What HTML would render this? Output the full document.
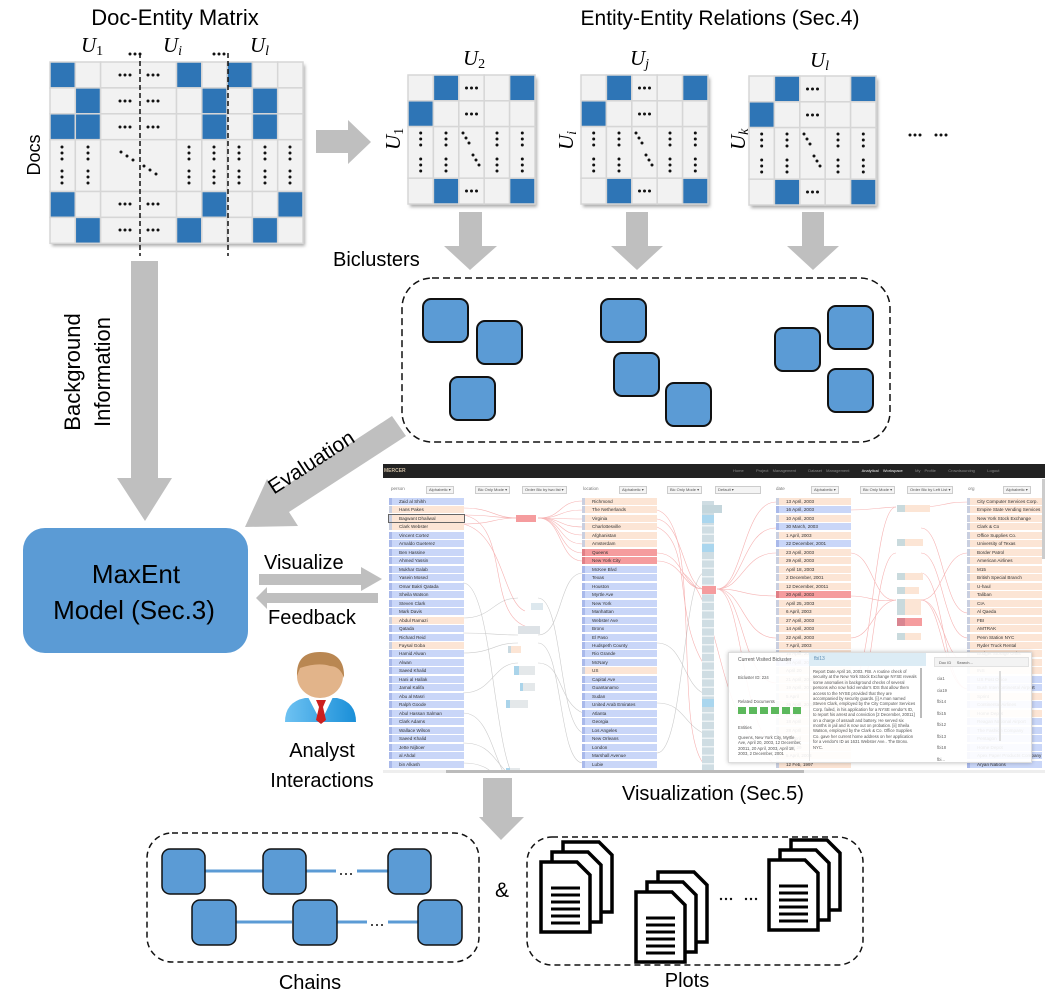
<!DOCTYPE html>
<html><head><meta charset="utf-8">
<style>
html,body{margin:0;padding:0;background:#fff;}
body{width:1048px;height:993px;position:relative;overflow:hidden;font-family:"Liberation Sans",sans-serif;}
svg{position:absolute;left:0;top:0;}
.shot{position:absolute;left:383px;top:463px;width:662px;height:310px;background:#fff;overflow:hidden;}
.col{position:absolute;top:35px;width:75px;}
.col i{display:block;height:7px;margin-bottom:1.47px;background:#c9d6f8;font:normal 4.6px/7px "Liberation Sans",sans-serif;color:#333;padding-left:7px;border-left:3px solid #a9b9ea;box-sizing:border-box;white-space:nowrap;overflow:hidden;}
.col i.p{background:#fce5d5;border-left-color:#c9cfe0;}
.col i.r{background:#f59c9e;border-left-color:#e07f86;}
.col i.o{outline:1px solid #666;}
.hdr{position:absolute;top:23px;font:4.5px/6px "Liberation Sans",sans-serif;color:#777;}
.dd{position:absolute;top:23px;height:6px;border:1px solid #ccc;background:#f4f4f4;font:4px/6px "Liberation Sans",sans-serif;color:#555;padding:0 2px;}
.pop{position:absolute;left:345px;top:189px;width:302px;height:109px;background:rgba(255,255,255,0.9);border:1px solid #ddd;box-shadow:0 0 4px rgba(0,0,0,.25);font:4.2px/5.4px "Liberation Sans",sans-serif;color:#555;}
</style></head><body>
<svg width="1048" height="993" viewBox="0 0 1048 993">
<defs>
<filter id="sh" x="-10%" y="-10%" width="125%" height="125%"><feDropShadow dx="2" dy="3" stdDeviation="1.5" flood-color="#888" flood-opacity="0.7"/></filter>
<g id="hd"><circle cx="-5" cy="0" r="1.5"/><circle cx="0" cy="0" r="1.5"/><circle cx="5" cy="0" r="1.5"/></g>
<g id="vd"><circle cx="0" cy="-6" r="1.5"/><circle cx="0" cy="0" r="1.5"/><circle cx="0" cy="6" r="1.5"/></g>
<g id="sm">
 <rect x="0" y="0" width="127" height="129" fill="#f2f2f2" filter="url(#sh)"/>
 <g fill="#f2f2f2" stroke="#d6d6d6" stroke-width="1.5">
  <rect x="0" y="0" width="25.4" height="25.8"/><rect x="25.4" y="0" width="25.4" height="25.8" fill="#2e75b6"/><rect x="50.8" y="0" width="25.4" height="25.8"/><rect x="76.2" y="0" width="25.4" height="25.8"/><rect x="101.6" y="0" width="25.4" height="25.8" fill="#2e75b6"/>
  <rect x="0" y="25.8" width="25.4" height="25.8" fill="#2e75b6"/><rect x="25.4" y="25.8" width="25.4" height="25.8"/><rect x="50.8" y="25.8" width="25.4" height="25.8"/><rect x="76.2" y="25.8" width="25.4" height="25.8"/><rect x="101.6" y="25.8" width="25.4" height="25.8"/>
  <rect x="0" y="51.6" width="25.4" height="51.6"/><rect x="25.4" y="51.6" width="25.4" height="51.6"/><rect x="50.8" y="51.6" width="25.4" height="51.6"/><rect x="76.2" y="51.6" width="25.4" height="51.6"/><rect x="101.6" y="51.6" width="25.4" height="51.6"/>
  <rect x="0" y="103.2" width="25.4" height="25.8"/><rect x="25.4" y="103.2" width="25.4" height="25.8" fill="#2e75b6"/><rect x="50.8" y="103.2" width="25.4" height="25.8"/><rect x="76.2" y="103.2" width="25.4" height="25.8"/><rect x="101.6" y="103.2" width="25.4" height="25.8" fill="#2e75b6"/>
 </g>
 <g fill="#111">
  <use href="#hd" x="63.5" y="13"/><use href="#hd" x="63.5" y="39"/><use href="#hd" x="63.5" y="116"/>
  <use href="#vd" x="12.7" y="64"/><use href="#vd" x="38" y="64"/><use href="#vd" x="89" y="64"/><use href="#vd" x="114.3" y="64"/>
  <use href="#vd" x="12.7" y="90"/><use href="#vd" x="38" y="90"/><use href="#vd" x="89" y="90"/><use href="#vd" x="114.3" y="90"/>
  <circle cx="55" cy="58" r="1.5"/><circle cx="58" cy="63" r="1.5"/><circle cx="61" cy="68" r="1.5"/>
  <circle cx="65" cy="80" r="1.5"/><circle cx="68" cy="85" r="1.5"/><circle cx="71" cy="90" r="1.5"/>
 </g>
</g>
<g id="doc"><path d="M0,0 H36 L49,13 V70 H0 Z" fill="#fff" stroke="#000" stroke-width="3.5" stroke-linejoin="miter"/></g>
<g id="docf"><path d="M0,0 H36 L49,13 V70 H0 Z" fill="#fff" stroke="#000" stroke-width="3.5"/><g stroke="#000" stroke-width="3"><line x1="10" y1="26" x2="39" y2="26"/><line x1="10" y1="33" x2="39" y2="33"/><line x1="10" y1="40" x2="39" y2="40"/><line x1="10" y1="47" x2="39" y2="47"/><line x1="10" y1="54" x2="39" y2="54"/><line x1="10" y1="61" x2="39" y2="61"/></g></g>
<g id="stack"><use href="#doc" x="22" y="-20"/><use href="#doc" x="11" y="-10"/><use href="#docf" x="0" y="0"/></g>
<linearGradient id="bod" x1="0" y1="0" x2="1" y2="0"><stop offset="0" stop-color="#6ec2f2"/><stop offset="1" stop-color="#1a8fd8"/></linearGradient>
</defs>

<text x="175" y="25" font-size="22" text-anchor="middle" fill="#000">Doc-Entity Matrix</text>
<text x="720" y="25" font-size="21" text-anchor="middle" fill="#000">Entity-Entity Relations (Sec.4)</text>
<g font-family="Liberation Serif" font-style="italic" font-size="21" fill="#000">
<text x="81" y="52">U<tspan font-size="14" font-style="normal" dy="3">1</tspan></text>
<text x="163" y="52">U<tspan font-size="14" dy="3">i</tspan></text>
<text x="250" y="52">U<tspan font-size="14" dy="3">l</tspan></text>
<text x="463" y="65">U<tspan font-size="14" font-style="normal" dy="3">2</tspan></text>
<text x="630" y="65">U<tspan font-size="14" dy="3">j</tspan></text>
<text x="810" y="67">U<tspan font-size="14" dy="3">l</tspan></text>
<text transform="translate(400,150) rotate(-90)">U<tspan font-size="14" font-style="normal" dy="3">1</tspan></text>
<text transform="translate(573,150) rotate(-90)">U<tspan font-size="14" dy="3">i</tspan></text>
<text transform="translate(745,150) rotate(-90)">U<tspan font-size="14" dy="3">k</tspan></text>
</g>
<g fill="#111"><use href="#hd" x="135" y="54"/><use href="#hd" x="219" y="54"/><use href="#hd" x="915" y="135"/><use href="#hd" x="941" y="135"/></g>
<text transform="translate(40,155) rotate(-90)" font-size="18" text-anchor="middle">Docs</text>

<g>
<rect x="50" y="62" width="253" height="181" fill="#f2f2f2" filter="url(#sh)"/>
<g stroke="#d6d6d6" stroke-width="1.5" fill="#f2f2f2">
<rect x="50" y="62" width="25.3" height="25.9" fill="#2e75b6"/><rect x="75.3" y="62" width="25.3" height="25.9"/><rect x="100.6" y="62" width="75.9" height="25.9"/><rect x="176.5" y="62" width="25.3" height="25.9" fill="#2e75b6"/><rect x="201.8" y="62" width="25.3" height="25.9"/><rect x="227.1" y="62" width="25.3" height="25.9" fill="#2e75b6"/><rect x="252.4" y="62" width="25.3" height="25.9"/><rect x="277.7" y="62" width="25.3" height="25.9"/>
<rect x="50" y="87.9" width="25.3" height="25.9"/><rect x="75.3" y="87.9" width="25.3" height="25.9" fill="#2e75b6"/><rect x="100.6" y="87.9" width="75.9" height="25.9"/><rect x="176.5" y="87.9" width="25.3" height="25.9"/><rect x="201.8" y="87.9" width="25.3" height="25.9" fill="#2e75b6"/><rect x="227.1" y="87.9" width="25.3" height="25.9"/><rect x="252.4" y="87.9" width="25.3" height="25.9" fill="#2e75b6"/><rect x="277.7" y="87.9" width="25.3" height="25.9"/>
<rect x="50" y="113.8" width="25.3" height="25.9" fill="#2e75b6"/><rect x="75.3" y="113.8" width="25.3" height="25.9" fill="#2e75b6"/><rect x="100.6" y="113.8" width="75.9" height="25.9"/><rect x="176.5" y="113.8" width="25.3" height="25.9"/><rect x="201.8" y="113.8" width="25.3" height="25.9" fill="#2e75b6"/><rect x="227.1" y="113.8" width="25.3" height="25.9"/><rect x="252.4" y="113.8" width="25.3" height="25.9" fill="#2e75b6"/><rect x="277.7" y="113.8" width="25.3" height="25.9"/>
<rect x="50" y="139.7" width="25.3" height="51.8"/><rect x="75.3" y="139.7" width="25.3" height="51.8"/><rect x="100.6" y="139.7" width="75.9" height="51.8"/><rect x="176.5" y="139.7" width="25.3" height="51.8"/><rect x="201.8" y="139.7" width="25.3" height="51.8"/><rect x="227.1" y="139.7" width="25.3" height="51.8"/><rect x="252.4" y="139.7" width="25.3" height="51.8"/><rect x="277.7" y="139.7" width="25.3" height="51.8"/>
<rect x="50" y="191.5" width="25.3" height="25.9" fill="#2e75b6"/><rect x="75.3" y="191.5" width="25.3" height="25.9"/><rect x="100.6" y="191.5" width="75.9" height="25.9"/><rect x="176.5" y="191.5" width="25.3" height="25.9"/><rect x="201.8" y="191.5" width="25.3" height="25.9" fill="#2e75b6"/><rect x="227.1" y="191.5" width="25.3" height="25.9"/><rect x="252.4" y="191.5" width="25.3" height="25.9"/><rect x="277.7" y="191.5" width="25.3" height="25.9" fill="#2e75b6"/>
<rect x="50" y="217.4" width="25.3" height="25.9"/><rect x="75.3" y="217.4" width="25.3" height="25.9" fill="#2e75b6"/><rect x="100.6" y="217.4" width="75.9" height="25.9"/><rect x="176.5" y="217.4" width="25.3" height="25.9" fill="#2e75b6"/><rect x="201.8" y="217.4" width="25.3" height="25.9"/><rect x="227.1" y="217.4" width="25.3" height="25.9"/><rect x="252.4" y="217.4" width="25.3" height="25.9" fill="#2e75b6"/><rect x="277.7" y="217.4" width="25.3" height="25.9"/>
</g>
<g fill="#111">
<use href="#hd" x="125" y="75"/><use href="#hd" x="153" y="75"/>
<use href="#hd" x="125" y="101"/><use href="#hd" x="153" y="101"/>
<use href="#hd" x="125" y="127"/><use href="#hd" x="153" y="127"/>
<use href="#hd" x="125" y="204"/><use href="#hd" x="153" y="204"/>
<use href="#hd" x="125" y="230"/><use href="#hd" x="153" y="230"/>
<use href="#vd" x="62" y="153"/><use href="#vd" x="88" y="153"/><use href="#vd" x="189" y="153"/><use href="#vd" x="214" y="153"/><use href="#vd" x="239" y="153"/><use href="#vd" x="265" y="153"/><use href="#vd" x="290" y="153"/>
<use href="#vd" x="62" y="177"/><use href="#vd" x="88" y="177"/><use href="#vd" x="189" y="177"/><use href="#vd" x="214" y="177"/><use href="#vd" x="239" y="177"/><use href="#vd" x="265" y="177"/><use href="#vd" x="290" y="177"/>
<circle cx="121" cy="152" r="1.5"/><circle cx="127" cy="156" r="1.5"/><circle cx="133" cy="160" r="1.5"/>
<circle cx="144" cy="166" r="1.5"/><circle cx="150" cy="170" r="1.5"/><circle cx="156" cy="174" r="1.5"/>
</g>
<g stroke="#111" stroke-width="1.5" stroke-dasharray="5,3"><line x1="140" y1="53" x2="140" y2="256"/><line x1="228" y1="53" x2="228" y2="256"/></g>
</g>

<use href="#sm" x="408" y="75"/><use href="#sm" x="581" y="75"/><use href="#sm" x="749" y="76"/>

<g fill="#bfbfbf">
<polygon points="316,130 348,130 348,120 371,142 348,164 348,153 316,153"/>
<polygon points="459,212 482,212 482,246 497,246 470,270 444,246 459,246"/>
<polygon points="626,212 648,212 648,246 663,246 637,270 611,246 626,246"/>
<polygon points="802,212 824,212 824,246 839,246 813,270 787,246 802,246"/>
<polygon points="131,261 158,261 158,478 172,478 145,521 117,478 131,478"/>
<polygon points="392,416 276,492 267,479 245,527 298,526 289,512 406,436"/>
<polygon points="259,574 361,574 361,567 382,579 361,591 361,585 259,585"/>
<polygon points="378,593 267,593 267,587 256,598 267,609 267,603 378,603"/>
<polygon points="483,778 512,778 512,817 524,817 501,840 479,817 483,817"/>
</g>

<text x="333" y="266" font-size="20">Biclusters</text>
<rect x="402" y="278" width="488" height="164" rx="30" fill="none" stroke="#111" stroke-width="1.5" stroke-dasharray="7,4"/>
<g fill="#5b9bd5" stroke="#111" stroke-width="2">
<rect x="423" y="299" width="45" height="43" rx="8"/><rect x="477" y="321" width="45" height="43" rx="8"/><rect x="450" y="377" width="45" height="43" rx="8"/>
<rect x="601" y="299" width="45" height="43" rx="8"/><rect x="614" y="353" width="45" height="43" rx="8"/><rect x="666" y="383" width="45" height="43" rx="8"/>
<rect x="775" y="328" width="45" height="43" rx="8"/><rect x="828" y="306" width="45" height="43" rx="8"/><rect x="828" y="369" width="45" height="43" rx="8"/>
</g>

<g font-size="22" text-anchor="middle">
<text transform="translate(80,372) rotate(-90)">Background</text>
<text transform="translate(110,372) rotate(-90)">Information</text>
<text transform="translate(315,468) rotate(-33)" font-size="21">Evaluation</text>
</g>

<rect x="23" y="528" width="225" height="125" rx="22" fill="#5b9bd5"/>
<text x="136" y="583" font-size="26" text-anchor="middle">MaxEnt</text>
<text x="134" y="619" font-size="26" text-anchor="middle">Model (Sec.3)</text>
<text x="264" y="569" font-size="20">Visualize</text>
<text x="268" y="624" font-size="20">Feedback</text>

<path d="M285,722 Q285,702 305,698 L337,698 Q356,702 356,722 Z" fill="url(#bod)"/>
<path d="M308,697 L321,722 L333,697 Z" fill="#fff"/>
<path d="M316,700 L326,700 L323,707 L326,720 L321,724 L316,720 L319,707 Z" fill="#cc1f1f"/>
<ellipse cx="320" cy="676" rx="23" ry="22" fill="#e2b48a"/>
<path d="M297,676 Q296,652 320,652 Q345,652 344,678 Q340,666 330,666 Q318,662 300,668 Z" fill="#b98752"/>
<text x="322" y="757" font-size="20" text-anchor="middle">Analyst</text>
<text x="322" y="787" font-size="20" text-anchor="middle">Interactions</text>
<text x="622" y="800" font-size="20">Visualization (Sec.5)</text>

<rect x="147" y="833" width="332" height="129" rx="25" fill="none" stroke="#111" stroke-width="1.5" stroke-dasharray="6,4"/>
<g stroke="#5b9bd5" stroke-width="3"><line x1="205" y1="871" x2="263" y2="871"/><line x1="306" y1="871" x2="336" y2="871"/><line x1="357" y1="871" x2="388" y2="871"/><line x1="236" y1="922" x2="292" y2="922"/><line x1="337" y1="922" x2="367" y2="922"/><line x1="388" y1="922" x2="418" y2="922"/></g>
<g fill="#5b9bd5" stroke="#111" stroke-width="1.5">
<rect x="162" y="849" width="43" height="45" rx="8"/><rect x="263" y="849" width="43" height="45" rx="8"/><rect x="388" y="849" width="43" height="45" rx="8"/>
<rect x="192" y="900" width="44" height="45" rx="8"/><rect x="293" y="900" width="44" height="45" rx="8"/><rect x="418" y="900" width="44" height="45" rx="8"/>
</g>
<g fill="#111"><circle cx="341" cy="874" r="1"/><circle cx="346" cy="874" r="1"/><circle cx="351" cy="874" r="1"/><circle cx="372" cy="925" r="1"/><circle cx="377" cy="925" r="1"/><circle cx="382" cy="925" r="1"/></g>
<text x="502" y="897" font-size="21" text-anchor="middle">&amp;</text>
<rect x="527" y="837" width="336" height="128" rx="25" fill="none" stroke="#111" stroke-width="1.5" stroke-dasharray="6,4"/>
<use href="#stack" x="541" y="862"/><use href="#stack" x="636" y="892"/><use href="#stack" x="769" y="860"/>
<g fill="#111"><circle cx="721" cy="899" r="1.2"/><circle cx="726" cy="899" r="1.2"/><circle cx="731" cy="899" r="1.2"/><circle cx="746" cy="899" r="1.2"/><circle cx="751" cy="899" r="1.2"/><circle cx="756" cy="899" r="1.2"/></g>
<text x="310" y="989" font-size="20" text-anchor="middle">Chains</text>
<text x="687" y="987" font-size="20" text-anchor="middle">Plots</text>
</svg>

<div class="shot">
<div style="position:absolute;left:0;top:1px;width:662px;height:14px;background:#222;"></div>
<div style="position:absolute;left:1px;top:5px;font:bold 5px/6px 'Liberation Sans';color:#c9b9a0;">MERCER</div>
<div style="position:absolute;left:350px;top:5px;font:4px/6px 'Liberation Sans';color:#888;white-space:nowrap;word-spacing:3px;">Home &nbsp; Project Management &nbsp; Dataset Management &nbsp; <span style="color:#eee">Analytical Workspace</span> &nbsp; My Profile &nbsp; Crowdsourcing &nbsp; Logout</div>
<div class="hdr" style="left:8px">person</div><div class="dd" style="left:43px">Alphabetic ▾</div><div class="dd" style="left:92px">Bic Only Mode ▾</div><div class="dd" style="left:139px">Order Bic by two list ▾</div>
<div class="hdr" style="left:200px">location</div><div class="dd" style="left:236px">Alphabetic ▾</div><div class="dd" style="left:284px">Bic Only Mode ▾</div><div class="dd" style="left:332px;width:40px">Default ▾</div>
<div class="hdr" style="left:393px">date</div><div class="dd" style="left:428px">Alphabetic ▾</div><div class="dd" style="left:477px">Bic Only Mode ▾</div><div class="dd" style="left:524px">Order Bic by Left List ▾</div>
<div class="hdr" style="left:585px">org</div><div class="dd" style="left:620px">Alphabetic ▾</div>

<svg width="662" height="310" style="left:0;top:0" fill="none" stroke-width="0.6">
<g stroke="#f08080" opacity="0.6">
<path d="M80,45 C110,45 110,55 135,55"/><path d="M80,52 C110,52 110,55 135,55"/><path d="M80,61 C110,61 110,55 135,55"/>
<path d="M80,61 C120,70 120,140 142,148"/><path d="M80,52 C130,60 100,160 150,165"/>
<path d="M155,55 C180,55 175,38 200,38"/><path d="M155,55 C180,55 175,47 200,47"/><path d="M155,55 C180,55 175,56 200,56"/><path d="M155,55 C180,55 175,64 200,64"/><path d="M155,55 C180,55 175,72 200,72"/><path d="M155,55 C180,55 175,81 200,81"/><path d="M155,55 C180,55 175,90 200,90"/><path d="M155,55 C180,55 175,98 200,98"/>
<path d="M274,90 C300,90 300,126 320,126"/><path d="M274,98 C300,98 300,126 320,126"/><path d="M274,56 C300,60 300,120 320,126"/><path d="M274,64 C310,80 290,150 320,200"/><path d="M274,47 C320,60 290,260 320,300"/>
<path d="M334,126 C360,126 360,39 393,39"/><path d="M334,126 C360,126 360,65 393,65"/><path d="M334,126 C360,126 360,90 393,90"/><path d="M334,126 C360,126 360,133 393,133"/><path d="M334,126 C360,126 360,175 393,175"/><path d="M334,126 C360,126 360,220 393,220"/><path d="M334,126 C360,126 360,280 393,280"/><path d="M300,110 C340,140 330,250 390,300"/>
<path d="M467,47 C490,47 490,45 513,44"/><path d="M467,90 C490,90 490,140 513,137"/><path d="M467,133 C490,133 490,140 513,137"/><path d="M467,175 C490,175 490,140 513,137"/><path d="M467,220 C490,220 490,44 513,44"/><path d="M467,260 C490,250 490,90 513,90"/>
<path d="M538,44 C560,44 560,39 585,39"/><path d="M538,137 C560,137 560,226 585,226"/><path d="M538,137 C560,137 560,200 585,200"/><path d="M538,90 C560,90 560,175 585,175"/><path d="M538,65 C560,65 560,150 585,150"/><path d="M538,137 C560,137 560,90 585,90"/><path d="M538,110 C560,110 560,226 585,226"/>
</g>
<g stroke="#999" opacity="0.5">
<path d="M80,155 C110,155 110,135 135,135"/><path d="M80,170 C110,170 110,172 135,172"/><path d="M80,190 C110,190 110,180 135,180"/><path d="M80,230 C110,230 110,200 135,200"/><path d="M80,280 C110,280 110,300 135,320"/><path d="M80,300 C110,300 110,315 135,330"/><path d="M80,250 C110,250 110,310 135,330"/><path d="M80,120 C110,120 110,300 135,320"/>
<path d="M155,135 C180,135 175,260 200,270"/><path d="M155,180 C180,180 175,300 200,300"/><path d="M155,200 C180,200 175,240 200,250"/><path d="M155,172 C180,172 175,110 200,110"/>
<path d="M274,180 C300,180 300,220 320,230"/><path d="M274,240 C300,240 300,260 320,270"/><path d="M274,290 C300,290 300,120 320,110"/>
</g>
</svg>

<div class="col" style="left:6px">
<i>Zaid al Shihh</i><i class="p">Hans Pakes</i><i class="p o">Bagwant Dhaliwal</i><i class="p">Clark Webster</i><i>Vincent Cortez</i><i>Arnaldo Gueterez</i><i>Ben Hassine</i><i>Ahmed Yassin</i><i>Mukhar Galab</i><i>Yasein Mosed</i><i>Omar Bakri Qatada</i><i>Sheila Watson</i><i>Steven Clark</i><i>Mark Davis</i><i class="p">Abdul Ramazi</i><i>Qatada</i><i>Richard Reid</i><i class="p">Faysal Goba</i><i>Hamid Alwan</i><i>Alwan</i><i>Saeed Khalid</i><i>Hani al Hallak</i><i>Jamal Kalifa</i><i>Abu al Masri</i><i>Ralph Goode</i><i>Abul Hassan Salman</i><i>Clark Adams</i><i>Wallace Wilson</i><i>Saeed Khalid</i><i>Jette Nijboer</i><i>al Ahdal</i><i>bin Alkash</i>
</div>
<div class="col" style="left:199px">
<i class="p">Richmond</i><i class="p">The Netherlands</i><i class="p">Virginia</i><i class="p">Charlottesville</i><i class="p">Afghanistan</i><i class="p">Amsterdam</i><i class="r">Queens</i><i class="r">New York City</i><i>McKee Blvd</i><i>Texas</i><i>Houston</i><i>Myrtle Ave</i><i>New York</i><i>Manhattan</i><i>Webster Ave</i><i>Bronx</i><i>El Paso</i><i>Hudspeth County</i><i>Rio Grande</i><i>McNary</i><i class="p">US</i><i>Capital Ave</i><i>Guantanamo</i><i>Sudan</i><i>United Arab Emirates</i><i>Atlanta</i><i>Georgia</i><i>Los Angeles</i><i>New Orleans</i><i>London</i><i>Marshall Avenue</i><i>Lubie</i>
</div>
<div class="col" style="left:393px">
<i class="p">13 April, 2003</i><i>16 April, 2003</i><i class="p">10 April, 2003</i><i>30 March, 2003</i><i class="p">1 April, 2003</i><i>22 December, 2001</i><i class="p">23 April, 2003</i><i class="p">29 April, 2003</i><i class="p">April 18, 2003</i><i class="p">2 December, 2001</i><i class="p">12 December, 20011</i><i class="r">20 April, 2003</i><i class="p">April 25, 2003</i><i class="p">6 April, 2003</i><i class="p">27 April, 2003</i><i class="p">14 April, 2003</i><i class="p">22 April, 2003</i><i class="p">7 April, 2003</i><i class="p">15 April, 2003</i><i>24 April, 2003</i><i class="p">April 20</i><i class="p">21 April, 2003</i><i class="p">19 April, 2003</i><i class="p">5 April</i><i class="p">26 April, 2003</i><i class="p">29 April</i><i class="p">18 April</i><i class="p">28 April</i><i class="p">11 April</i><i class="p">April 29</i><i class="p">5 April, 2003</i><i class="p">12 Feb, 1997</i>
</div>
<div class="col" style="left:584px">
<i class="p">City Computer Services Corp.</i><i class="p">Empire State Vending Services</i><i class="p">New York Stock Exchange</i><i class="p">Clark &amp; Co</i><i class="p">Office Supplies Co.</i><i class="p">University of Texas</i><i class="p">Border Patrol</i><i class="p">American Airlines</i><i class="p">M15</i><i class="p">British Special Branch</i><i class="p">U-haul</i><i class="p">Taliban</i><i class="p">CIA</i><i class="p">Al Qaeda</i><i class="p">FBI</i><i class="p">AMTRAK</i><i class="p">Penn Station NYC</i><i class="p">Ryder Truck Rental</i><i class="p">Budget Storage Units</i><i class="p">First Union Bank</i><i class="p">INS</i><i>US Post Office</i><i>Bush Intercontinental Airport</i><i class="p">Sprint</i><i>Continental Airlines</i><i class="p">Home Depot</i><i>Reagan National Airport</i><i>The Fashion Company</i><i>Pentagon</i><i>Home Depot</i><i>Apex Paper Products Company</i><i>Aryan Nations</i>
</div>

<div style="position:absolute;left:133px;top:52px;width:20px;height:7px;background:#f59c9e"></div>
<div style="position:absolute;left:148px;top:140px;width:12px;height:7px;background:#dde8ee"></div>
<div style="position:absolute;left:135px;top:163px;width:22px;height:8px;background:#dde2e6"></div>
<div style="position:absolute;left:125px;top:183px;width:10px;height:7px;background:#fce5d5;border-left:3px solid #c9d9e0"></div>
<div style="position:absolute;left:131px;top:203px;width:16px;height:9px;background:#e4e8ea;border-left:5px solid #aad4ea"></div>
<div style="position:absolute;left:137px;top:220px;width:12px;height:8px;background:#e4e8ea;border-left:3px solid #aad4ea"></div>
<div style="position:absolute;left:123px;top:237px;width:18px;height:8px;background:#e4e8ea;border-left:4px solid #aad4ea"></div>
<div style="position:absolute;left:123px;top:305px;width:10px;height:7px;background:#e4e8ea;border-left:4px solid #aad4ea"></div>
<div style="position:absolute;left:319px;top:38px;width:12px;height:272px;background:repeating-linear-gradient(#cfdde3 0 7px,#eef3f5 7px 8.5px)"></div>
<div style="position:absolute;left:319px;top:42px;width:20px;height:8px;background:#c4d6dc"></div>
<div style="position:absolute;left:319px;top:52px;width:12px;height:8px;background:#aad6ee"></div>
<div style="position:absolute;left:319px;top:81px;width:12px;height:8px;background:#aad6ee"></div>
<div style="position:absolute;left:319px;top:123px;width:14px;height:8px;background:#f59c9e"></div>
<div style="position:absolute;left:319px;top:236px;width:12px;height:8px;background:#aad6ee"></div>
<div style="position:absolute;left:514px;top:42px;width:25px;height:7px;background:#fce5d5;border-left:8px solid #c9dadd"></div>
<div style="position:absolute;left:514px;top:76px;width:18px;height:7px;background:#fce5d5;border-left:8px solid #c9dadd"></div>
<div style="position:absolute;left:514px;top:110px;width:18px;height:7px;background:#fce5d5;border-left:8px solid #c9dadd"></div>
<div style="position:absolute;left:514px;top:124px;width:14px;height:7px;background:#fce5d5;border-left:8px solid #c9dadd"></div>
<div style="position:absolute;left:514px;top:136px;width:16px;height:16px;background:#fce5d5;border-left:8px solid #c9dadd"></div>
<div style="position:absolute;left:514px;top:155px;width:17px;height:8px;background:#f59c9e;border-left:8px solid #d98590"></div>
<div style="position:absolute;left:514px;top:170px;width:16px;height:7px;background:#fce5d5;border-left:8px solid #c9dadd"></div>
<div style="position:absolute;left:514px;top:195px;width:10px;height:8px;background:#c9dadd"></div>
<div style="position:absolute;left:0;top:307px;width:662px;height:3px;background:#eee"></div>
<div style="position:absolute;left:63px;top:307px;width:358px;height:3px;background:#bbb"></div>
<div style="position:absolute;left:659px;top:16px;width:3px;height:80px;background:#ccc"></div>

<div class="pop">
 <div style="position:absolute;left:0;top:0;width:80px;height:108px;border-right:1px solid #e4e4e4"></div>
 <div style="position:absolute;left:9px;top:5px;font-size:5px;color:#555">Current Visited Bicluster</div>
 <div style="position:absolute;left:9px;top:22px">Bicluster ID: 224</div>
 <div style="position:absolute;left:9px;top:46px">Related Documents</div>
 <div style="position:absolute;left:9px;top:54px;width:64px;height:7px;background:repeating-linear-gradient(90deg,#5cb85c 0 8px,transparent 8px 11px)"></div>
 <div style="position:absolute;left:9px;top:72px">Entities</div>
 <div style="position:absolute;left:9px;top:82px;width:64px">Queens, New York City, Myrtle Ave, April 20, 2003, 12 December, 20011, 20 April, 2003, April 18, 2003, 2 December, 2001</div>
 <div style="position:absolute;left:80px;top:0;width:117px;height:13px;background:#dcecf5;color:#5f8fb5;font-size:5px;line-height:13px;padding-left:5px;box-sizing:border-box">fbi13</div>
 <div style="position:absolute;left:84px;top:16px;width:104px;color:#555;height:90px;overflow:hidden">Report Date April 16, 2003. FBI. A routine check of security at the New York Stock Exchange NYSE reveals some anomalies in background checks of several persons who now hold vendor's IDS that allow them access to the NYSE provided that they are accompanied by security guards. [i] A man named Steven Clark, employed by the City Computer Services Corp. failed, in his application for a NYSE vendor's ID, to report his arrest and conviction [2 December, 20011] on a charge of assault and battery. He served six months in jail and is now out on probation. [ii] Sheila Watson, employed by the Clark &amp; Co. Office Supplies Co. gave her current home address on her application for a vendor's ID as 1631 Webster Ave.. The Bronx. NYC.</div>
 <div style="position:absolute;left:191px;top:15px;width:2px;height:50px;background:#bbb"></div>
 <div style="position:absolute;left:205px;top:4px;width:95px;height:10px;border:1px solid #e2e2e2;background:#f3f3f3;font-size:4px;line-height:10px;padding-left:4px;box-sizing:border-box">Doc ID &nbsp;&nbsp;&nbsp; Search...</div>
 <div style="position:absolute;left:208px;top:20px;width:60px;line-height:11.5px;color:#666">cia1<br>cia19<br>fbi14<br>fbi15<br>fbi12<br>fbi13<br>fbi18<br>fbi...</div>
 <div style="position:absolute;left:270px;top:18px;width:2px;height:70px;background:#ddd"></div>
</div>
</div>
</body></html>
